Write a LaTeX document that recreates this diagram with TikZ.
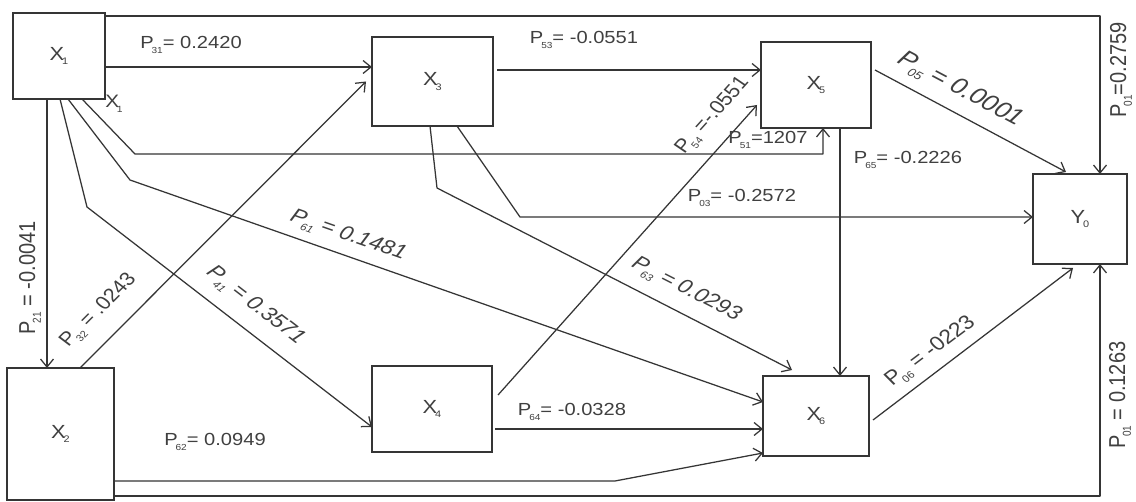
\documentclass[tikz,border=0pt]{standalone}
\usepackage{fontspec}
\setmainfont{Liberation Sans}
\usetikzlibrary{arrows.meta,calc}
\definecolor{lc}{HTML}{353535}
\definecolor{tc}{HTML}{404040}
\newcommand\idx[1]{\kern-1.8pt\raisebox{-0.25em}{\scalebox{0.5}{#1}}}
\newcommand\bx[1]{\scalebox{1.15}[1]{#1}}
\begin{document}
\begin{tikzpicture}[x=1pt,y=-1pt]
\tikzset{
 box/.style={draw=lc, line width=1.3pt, inner sep=0pt, outer sep=0pt, text=tc, font=\fontsize{19}{19}\selectfont},
 arr/.style={draw=lc, line width=1.25pt, line join=round, -{Straight Barb[length=8pt,width=13pt]}},
 lab/.style={inner sep=0pt, text=tc, xscale=1.15, font=\fontsize{17.5}{17.5}\selectfont},
 ilab/.style={inner sep=0pt, text=tc, xscale=1.15, font=\fontsize{20}{20}\selectfont\itshape},
 vlab/.style={inner sep=0pt, text=tc, xscale=1.15, rotate=90, font=\fontsize{20}{20}\selectfont},
}
\fill[white] (0,0) rectangle (1136,502);
\useasboundingbox (0,0) rectangle (1136,502);

% boxes
\node[box, minimum width=92pt, minimum height=86pt] (X1) at (59,56) {\bx{X\idx{1}}};
\node[box, minimum width=121pt, minimum height=89pt] (X3) at (432.5,81.5) {\bx{X\idx{3}}};
\node[box, minimum width=110pt, minimum height=86pt] (X5) at (816,85) {\bx{X\idx{5}}};
\node[box, minimum width=94pt, minimum height=90pt] (Y0) at (1080,219) {\bx{Y\idx{0}}};
\node[box, minimum width=107pt, minimum height=132pt] (X2) at (60.5,434) {\bx{X\idx{2}}};
\node[box, minimum width=120pt, minimum height=86pt] (X4) at (432,409) {\bx{X\idx{4}}};
\node[box, minimum width=106pt, minimum height=80pt] (X6) at (816,416) {\bx{X\idx{6}}};
\node[lab, font=\fontsize{18}{18}\selectfont] (x1b) at (114,104) {X\idx{1}};

% connectors
\draw[arr] ($(X1.north east)+(0,3)$) -| ($(Y0.north)+(20,0)$);
\draw[arr] ($(X1.east)+(0,11)$) coordinate (s31) -- (X3.west |- s31);
\draw[arr] ($(X1.south west)+(34,0)$) coordinate (s21) -- (X2.north -| s21);
\draw[arr] ($(X1.south west)+(47,0)$) -- (87,207) -- ($(X4.west)+(0,18)$);
\draw[arr] ($(X1.south west)+(55,0)$) -- (130,180) -- ($(X6.west)+(0,-14)$);
\draw[arr] ($(X1.south west)+(69,0)$) -- (135,154) -| ($(X5.south)+(7,0)$);
\draw[arr] ($(X2.north west)+(73,0)$) -- ($(X3.west)+(-6,0)$);
\draw[arr] ($(X3.east)+(4,-11.5)$) coordinate (s53) -- (X5.west |- s53);
\draw[arr] ($(X4.east)+(6,-14)$) -- ($(X5.west)+(-4,20)$);
\draw[arr] ($(X3.south)+(-2.5,0)$) -- (437,188) -- ($(X6.north)+(-24,-6)$);
\draw[arr] ($(X3.south)+(24.5,0)$) -- (520,217) -- ($(Y0.west)+(0,-2)$);
\draw[arr] ($(X5.south)+(24,0)$) coordinate (s65) -- (X6.north -| s65);
\draw[arr] ($(X5.east)+(4,-15)$) -- ($(Y0.north)+(-14,-2)$);
\draw[arr] ($(X6.east)+(4,4)$) -- ($(Y0.south)+(-7,4)$);
\draw[arr] ($(X4.east)+(3,20)$) coordinate (s64) -- (X6.west |- s64);
\draw[arr] ($(X2.east)+(0,47)$) -- (615,481) -- ($(X6.west)+(0,37)$);
\draw[arr] ($(X2.south east)+(0,-4)$) -| ($(Y0.south)+(20,0)$);

% labels
\node[lab] (l31) at (191,45) {P\idx{31}= 0.2420};
\node[lab] (l53) at (584,40) {P\idx{53}= -0.0551};
\node[lab] (l51) at (768,140) {P\idx{51}=1207};
\node[lab] (l65) at (908,160) {P\idx{65}= -0.2226};
\node[lab] (l03) at (742,198) {P\idx{03}= -0.2572};
\node[lab] (l64) at (572,412) {P\idx{64}= -0.0328};
\node[lab] (l62) at (215,442) {P\idx{62}= 0.0949};
\node[vlab] (l21) at (30,278) {P\idx{21} = -0.0041};
\node[vlab] (l01a) at (1121,70) {P\idx{01}=0.2759};
\node[vlab] (l01b) at (1120,395) {P\idx{01} = 0.1263};
\node[lab, font=\fontsize{19}{19}\selectfont, rotate=49] (l32) at (99,311) {P\idx{32} = .0243};
\node[lab, font=\fontsize{19}{19}\selectfont, rotate=51.9] (l54) at (713,116) {P\idx{54} =-.0551};
\node[lab, font=\fontsize{20}{20}\selectfont, rotate=40.9] (l06) at (931,352) {P\idx{06} = -0223};
\node[ilab, rotate=-41.6] (l41) at (255,306) {P\idx{41} = 0.3571};
\node[ilab, rotate=-22] (l61) at (348,236) {P\idx{61} = 0.1481};
\node[ilab, rotate=-30.4] (l63) at (686,290) {P\idx{63} = 0.0293};
\node[ilab, font=\fontsize{23}{23}\selectfont\itshape, rotate=-31.4] (l05) at (960,90) {P\idx{05} = 0.0001};
\end{tikzpicture}
\end{document}
